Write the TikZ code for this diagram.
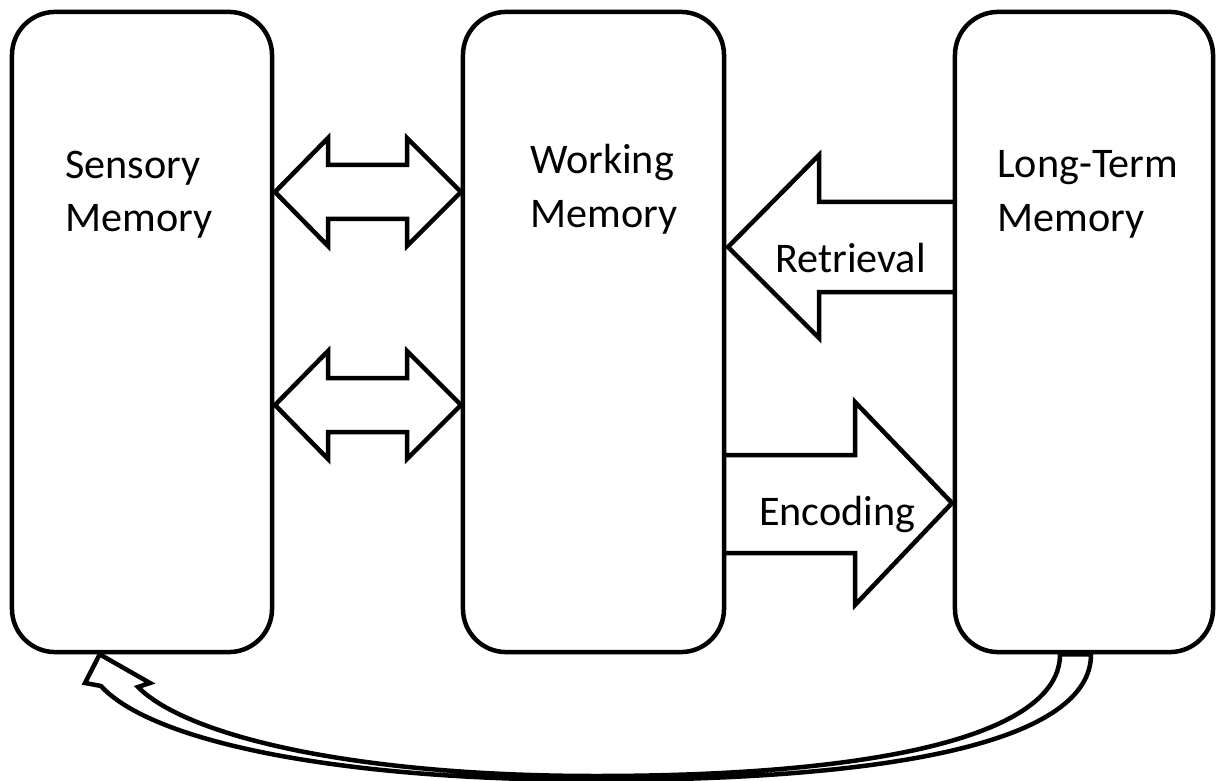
\documentclass[tikz,border=0pt]{standalone}
\usepackage{fontspec}
\setmainfont{Carlito}
\usepackage{tikz}
\usetikzlibrary{calc}

\begin{document}
\begin{tikzpicture}[x=0.025cm, y=-0.025cm, line width=3.2pt,
    membox/.style={draw, rounded corners=1.08cm, minimum height=16cm},
    lbl/.style={align=left, inner sep=0pt, anchor=base west,
        font=\fontsize{30pt}{38.4pt}\selectfont},
    blockarrow/.style={draw, line join=miter}]
    \useasboundingbox (0,0) rectangle (1217,781);

    % The three memory stores
    \node[membox, minimum width=6.5cm] (sensory) at (142,332) {};
    \node[membox, minimum width=6.525cm] (working) at (593.5,332) {};
    \node[membox, minimum width=6.45cm] (longterm) at (1084,332) {};

    % base west = baseline of the last line
    \node[lbl] (sensoryText) at (63,232) {Sensory\\Memory};
    \node[lbl] (workingText) at (528,227) {Working\\Memory};
    \node[lbl] (longtermText) at (995,231) {Long-Term\\Memory};

    % Two-way arrows between sensory and working memory
    \foreach \yc in {192,405} {
        \draw[blockarrow] (275,\yc) -- ++(53,-54) -- ++(0,27) -- ++(79,0)
            -- ++(0,-27) -- ++(54,54) -- ++(-54,54) -- ++(0,-27)
            -- ++(-79,0) -- ++(0,27) -- cycle;
    }

    % Retrieval: long-term -> working
    \coordinate (retrTail) at (955,247);
    \draw[blockarrow] ($(retrTail)+(0,-45)$) -- (819,202) -- (819,155)
        -- (728,247) -- (819,338) -- (819,292) -- ($(retrTail)+(0,45)$);
    \node[lbl] (retrieval) at (773,273) {Retrieval};

    % Encoding: working -> long-term
    \coordinate (encTail) at (724,504);
    \draw[blockarrow] ($(encTail)+(0,-49)$) -- (855,455) -- (855,402)
        -- (952,503) -- (855,605) -- (855,553) -- ($(encTail)+(0,49)$);
    \node[lbl] (encoding) at (757,525) {Encoding};

    % Curved arrow back to sensory memory
    \coordinate (outerStart) at ($(longterm.south)+(7,0)$);
    \coordinate (innerStart) at ($(longterm.south)+(-24,0)$);
    \coordinate (tip) at ($(sensory.south west)+(90,0)$);
    \draw[blockarrow] (outerStart) .. controls (1091,740) and (900,780) .. (596,780)
        .. controls (330,780) and (150,740) .. (101,686)
        -- (85,683) -- (tip) -- (150,683) -- (138,687)
        .. controls (185,735) and (350,776) .. (596,776)
        .. controls (880,776) and (1060,735) .. (innerStart) -- cycle;
\end{tikzpicture}
\end{document}
